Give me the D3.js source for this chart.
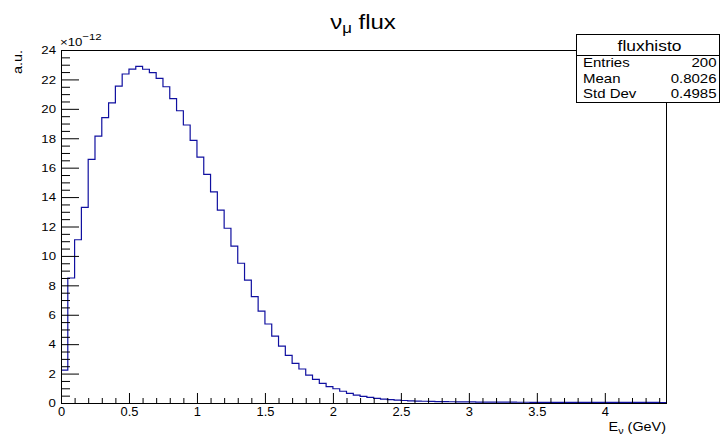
<!DOCTYPE html>
<html>
<head>
<meta charset="utf-8">
<script src="https://cdn.jsdelivr.net/npm/d3@7"></script>
<style>
  body { margin: 0; background: #fff; }
  svg { font-family: 'Liberation Sans', Arial, sans-serif; }
</style>
</head>
<body>
<svg id="root" width="720" height="435"></svg>
<script>
var d3 = window.d3

const width = 720
const height = 435
const margin = { left: 61, right: 54, top: 50, bottom: 32 }
// the reference text is a bit wider than Liberation Sans
const SX = 1.2

// histogram definition: 0.05 GeV bins starting at 0
const binWidth = 0.05
const xMax = 4.45
// bin contents, in units of 1e-12 (a.u.)
const fluxValues = [
  2.24, 8.5, 11.1, 13.3, 16.57, 18.15, 19.4, 20.4, 21.55, 22.37,
  22.7, 22.89, 22.69, 22.46, 22.07, 21.5, 20.7, 19.87, 18.9, 17.86,
  16.72, 15.55, 14.35, 13.12, 11.88, 10.67, 9.5, 8.36, 7.23, 6.25,
  5.37, 4.55, 3.87, 3.24, 2.7, 2.31, 1.9, 1.61, 1.34, 1.11,
  0.97, 0.8, 0.66, 0.54, 0.45, 0.38, 0.32, 0.27, 0.23, 0.2,
  0.17, 0.15, 0.13, 0.12, 0.11, 0.1, 0.09, 0.085, 0.08, 0.075,
  0.07, 0.066, 0.063, 0.06, 0.058, 0.056, 0.054, 0.052, 0.05, 0.049,
  0.048, 0.047, 0.046, 0.045, 0.044, 0.043, 0.042, 0.041, 0.04, 0.04,
  0.039, 0.039, 0.038, 0.038, 0.037, 0.037, 0.036, 0.036, 0.035
]
const yMax = 24
const yTicks = [0, 2, 4, 6, 8, 10, 12, 14, 16, 18, 20, 22, 24]
const xTicks = [0, 0.5, 1, 1.5, 2, 2.5, 3, 3.5, 4]
const statsTitle = 'fluxhisto'
const statsRows = [
  ['Entries', '200'],
  ['Mean', '0.8026'],
  ['Std Dev', '0.4985']
]

const svg = d3.select('#root')

const xScale = d3.scaleLinear()
  .domain([0, xMax])
  .range([margin.left, width - margin.right])

const yScale = d3.scaleLinear()
  .domain([0, yMax])
  .range([height - margin.bottom, margin.top])

const x0 = xScale.range()[0], x1 = xScale.range()[1]
const y0 = yScale.range()[0], y1 = yScale.range()[1]

// stretched text helper
function label (parent, x, y, size, anchor, rot) {
  const g = parent.append('g')
    .attr('transform', `translate(${x},${y})` + (rot ? ` rotate(${rot})` : '') + ` scale(${SX},1)`)
  return g.append('text')
    .attr('font-size', size)
    .attr('text-anchor', anchor || 'start')
}

svg.append('clipPath').attr('id', 'plotclip')
  .append('rect')
  .attr('x', x0).attr('y', y1)
  .attr('width', x1 - x0).attr('height', y0 - y1)

// histogram outline
const pts = [[0, 0]]
fluxValues.forEach((v, i) => {
  pts.push([i * binWidth, v])
  pts.push([(i + 1) * binWidth, v])
})
const line = d3.line()
  .x(d => xScale(d[0]))
  .y(d => yScale(d[1]))

svg.append('path')
  .attr('clip-path', 'url(#plotclip)')
  .attr('d', line(pts))
  .attr('fill', 'none')
  .attr('stroke', '#1010a0')
  .attr('stroke-width', 1.2)

// minor ticks
const yMinor = d3.range(0, yMax + 0.001, 0.5).filter(v => v % 2 !== 0)
svg.append('g')
  .attr('class', 'y minor')
  .attr('transform', `translate(${x0},0)`)
  .call(d3.axisLeft(yScale).tickValues(yMinor).tickSize(-9).tickFormat(''))

const xMinor = d3.range(0, 45).map(i => i / 10).filter(v => Math.round(v * 10) % 5 !== 0)
svg.append('g')
  .attr('class', 'x minor')
  .attr('transform', `translate(0,${y0})`)
  .call(d3.axisBottom(xScale).tickValues(xMinor).tickSize(-5).tickFormat(''))

// major ticks + labels
svg.append('g')
  .attr('class', 'y axis')
  .attr('transform', `translate(${x0},0)`)
  .call(d3.axisLeft(yScale).tickValues(yTicks).tickSize(-18).tickPadding(4.5).tickFormat(d3.format('d')))

svg.append('g')
  .attr('class', 'x axis')
  .attr('transform', `translate(0,${y0})`)
  .call(d3.axisBottom(xScale).tickValues(xTicks).tickSize(-10).tickPadding(4).tickFormat(d => String(d)))

svg.selectAll('.domain').remove()
svg.selectAll('.tick line').attr('stroke', '#000').attr('stroke-width', 1)
svg.selectAll('.axis text')
  .attr('font-size', 12)
  .attr('fill', '#000')
  .attr('font-family', "'Liberation Sans', Arial, sans-serif")
svg.selectAll('.y.axis text').attr('font-size', 11.8).attr('transform', 'scale(1.12,1)')
svg.selectAll('.x.axis text').attr('font-size', 12.3).attr('transform', 'scale(1.05,1)')

// frame
svg.append('rect')
  .attr('x', x0 + 0.5).attr('y', y1 + 0.5)
  .attr('width', x1 - x0).attr('height', y0 - y1)
  .attr('fill', 'none')
  .attr('stroke', '#000')
  .attr('stroke-width', 1)

// exponent label
const expo = label(svg, 60, 46, 11)
expo.append('tspan').text('\u00d710')
expo.append('tspan').attr('dy', -6).attr('font-size', 9.5).text('\u221212')

// title
const title = label(svg, 363, 28.5, 20, 'middle')
title.append('tspan').text('\u03bd')
title.append('tspan').attr('dy', 4).attr('font-size', 14).text('\u03bc')
title.append('tspan').attr('dy', -4).text(' flux')

// y title
label(svg, 22, 50, 12, 'end', -90).text('a.u.')

// x title
const xt = label(svg, x1, 431, 12, 'end')
xt.append('tspan').text('E')
xt.append('tspan').attr('dy', 3).attr('font-size', 9).text('\u03bd')
xt.append('tspan').attr('dy', -3).text(' (GeV)')

// stats box
const box = { x: 576, y: 34, w: 143, h: 68 }
const stats = svg.append('g')
stats.append('rect')
  .attr('x', box.x + 0.5).attr('y', box.y + 0.5)
  .attr('width', box.w).attr('height', box.h)
  .attr('fill', '#fff').attr('stroke', '#000')
stats.append('line')
  .attr('x1', box.x).attr('x2', box.x + box.w)
  .attr('y1', 55.5).attr('y2', 55.5)
  .attr('stroke', '#000')
label(stats, box.x + box.w / 2 + 2, 50.5, 14.5, 'middle').text(statsTitle)
statsRows.forEach((r, i) => {
  const yy = 67.3 + i * 15.5
  label(stats, 583, yy, 12.5).text(r[0])
  label(stats, 716.5, yy, 12.5, 'end').text(r[1])
})
</script>
</body>
</html>
